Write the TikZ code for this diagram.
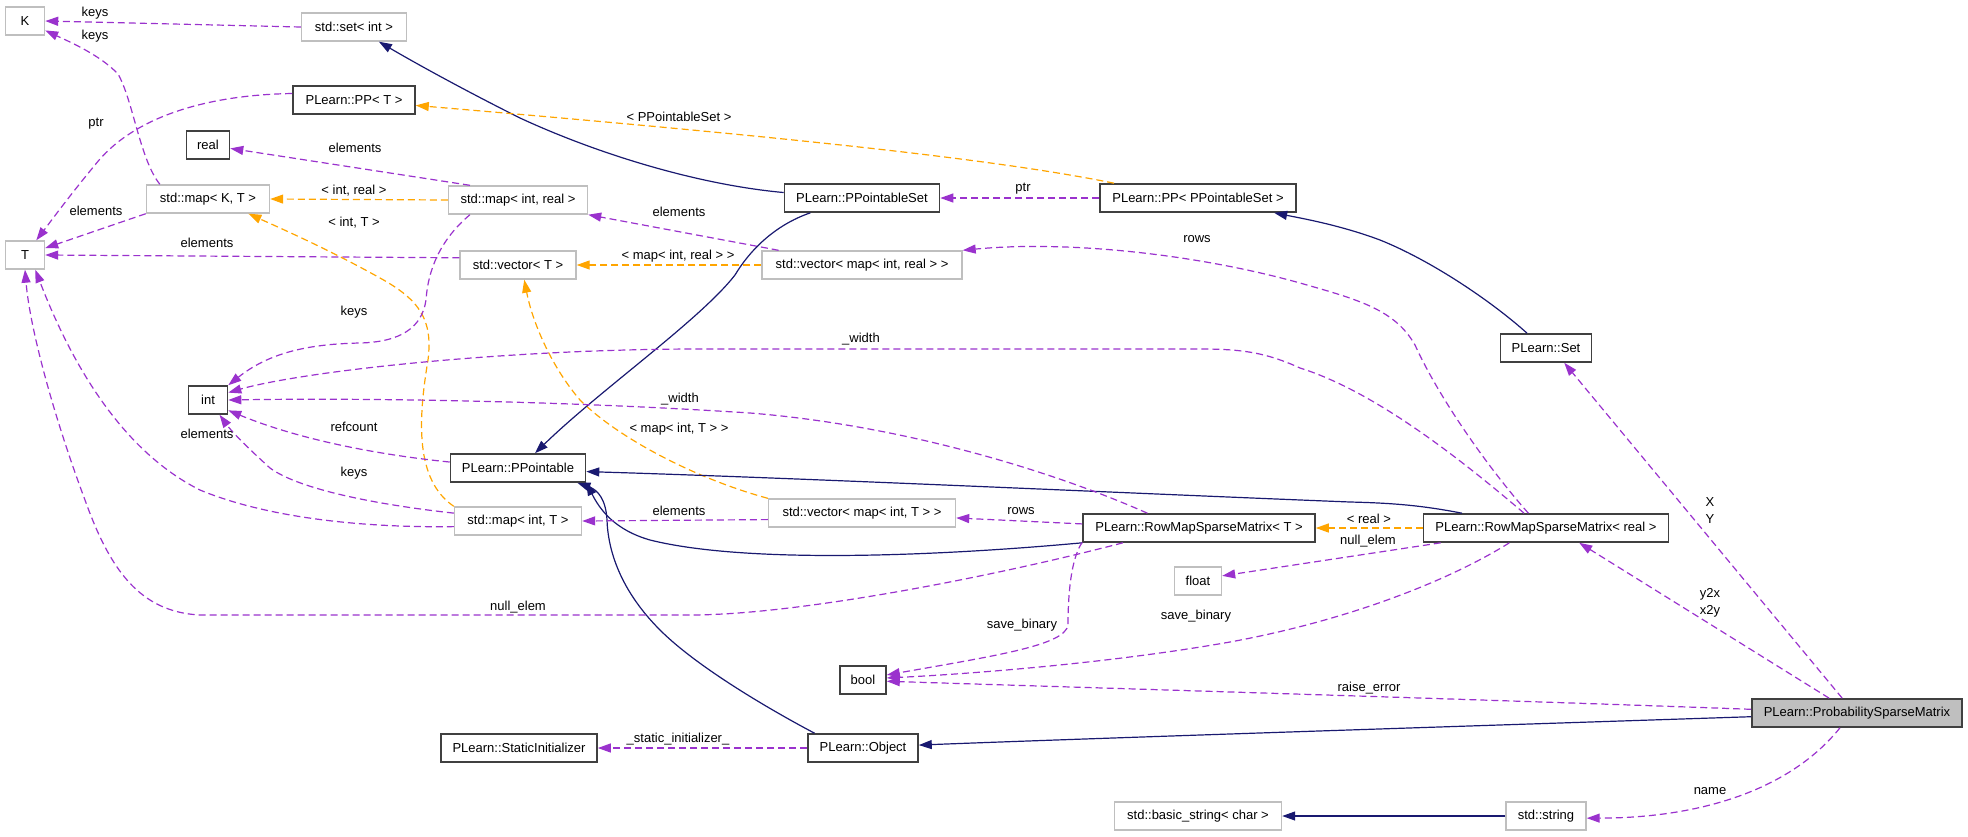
\documentclass[tikz,border=0pt]{standalone}
\usepackage{fontspec}
\setmainfont{Liberation Sans}
\usetikzlibrary{arrows.meta}
\definecolor{navy}{HTML}{191970}
\definecolor{orchid}{HTML}{9A32CD}
\definecolor{gold}{HTML}{FFA500}
\definecolor{gbord}{HTML}{BFBFBF}
\definecolor{dbord}{HTML}{404040}
\definecolor{psmfill}{HTML}{BFBFBF}
\begin{document}
\begin{tikzpicture}[x=1pt,y=-1pt,font=\fontsize{13}{17}\selectfont,
  box/.style={draw=dbord,line width=1.6pt,minimum height=28pt,inner sep=0pt,fill=white},
  gbox/.style={draw=gbord,line width=1.4pt,minimum height=28pt,inner sep=0pt,fill=white},
  tip/.style={-{Triangle[length=13pt,width=9pt]}},
  mem/.style={draw=orchid,line width=1.2pt,dash pattern=on 7pt off 4pt,tip},
  tmpl/.style={draw=gold,line width=1.2pt,dash pattern=on 7pt off 4pt,tip},
  inh/.style={draw=navy,line width=1.2pt,tip},
  lbl/.style={inner sep=0pt,align=center}]
\useasboundingbox (0,0) rectangle (1968,836);
% nodes
\node[gbox,minimum width=39pt] (K) at (25,21) {K};
\node[gbox,minimum width=105pt] (setint) at (354,27) {std::set< int >};
\node[box,minimum width=122pt] (PPT) at (354,100) {PLearn::PP< T >};
\node[box,minimum width=43pt] (real) at (208,145) {real};
\node[gbox,minimum width=123pt] (mapKT) at (208,199) {std::map< K, T >};
\node[gbox,minimum width=139pt] (mapIR) at (518,200) {std::map< int, real >};
\node[gbox,minimum width=39pt] (T) at (25,255) {T};
\node[gbox,minimum width=116pt] (vecT) at (518,265) {std::vector< T >};
\node[box,minimum width=155pt] (PPS) at (862,198) {PLearn::PPointableSet};
\node[box,minimum width=196pt] (PPPS) at (1198,198) {PLearn::PP< PPointableSet >};
\node[gbox,minimum width=200pt] (vecMIR) at (862,265) {std::vector< map< int, real > >};
\node[box,minimum width=91pt] (Set) at (1546,348) {PLearn::Set};
\node[box,minimum width=39pt] (int) at (208,400) {int};
\node[box,minimum width=135pt] (PPtbl) at (518,468) {PLearn::PPointable};
\node[gbox,minimum width=127pt] (mapIT) at (518,521) {std::map< int, T >};
\node[gbox,minimum width=187pt] (vecMIT) at (862,513) {std::vector< map< int, T > >};
\node[box,minimum width=232pt] (RMT) at (1199,528) {PLearn::RowMapSparseMatrix< T >};
\node[gbox,minimum width=47pt] (float) at (1198,581) {float};
\node[box,minimum width=245pt] (RMR) at (1546,528) {PLearn::RowMapSparseMatrix< real >};
\node[box,minimum width=210pt,fill=psmfill] (PSM) at (1857,713) {PLearn::ProbabilitySparseMatrix};
\node[gbox,minimum width=80pt] (string) at (1546,816) {std::string};
\node[gbox,minimum width=167pt] (bstring) at (1198,816) {std::basic\_string< char >};
\node[box,minimum width=46pt] (bool) at (863,680) {bool};
\node[box,minimum width=156pt] (SI) at (519,748) {PLearn::StaticInitializer};
\node[box,minimum width=110pt] (Obj) at (863,748) {PLearn::Object};
% edges
\draw[mem] (setint.west) -- (K.east);
\node[lbl] (l1) at (95,13) {keys};
\draw[mem] (mapKT.163) .. controls (140,160) and (133,100) .. (118,74) .. controls (100,55) and (70,42) .. (K);
\node[lbl] (l2) at (95,36) {keys};
\draw[mem] (PPT.174) .. controls (200,95) and (130,120) .. (95,165) .. controls (70,195) and (48,225) .. (T);
\node[lbl] (l3) at (96,124) {ptr};
\draw[mem] (mapIR.163) -- (real);
\node[lbl] (l4) at (355,148) {elements};
\draw[tmpl] (mapIR.west) -- (mapKT.east);
\node[lbl] (l5) at (354,191) {< int, real >};
\draw[mem] (mapKT.south west) -- (T);
\node[lbl] (l6) at (96,211) {elements};
\draw[mem] (vecT.173) -- (T.east);
\node[lbl] (l7) at (207,243) {elements};
\draw[tmpl] (mapIT.north west) .. controls (415,480) and (418,420) .. (428,360) .. controls (433,320) and (420,300) .. (380,278) .. controls (330,250) and (280,228) .. (mapKT.-20);
\node[lbl] (l8) at (354,223) {< int, T >};
\draw[mem] (mapIR.197) .. controls (440,240) and (428,270) .. (426,300) .. controls (422,328) and (400,342) .. (360,343) .. controls (310,344) and (270,352) .. (int.north east);
\node[lbl] (l9) at (354,312) {keys};
\draw[mem] (vecMIR.170) -- (mapIR.south east);
\node[lbl] (l10) at (679,212) {elements};
\draw[tmpl] (vecMIR.west) -- (vecT.east);
\node[lbl] (l11) at (678,256) {< map< int, real > >};
\draw[tmpl] (vecMIT.north west) .. controls (700,480) and (620,440) .. (580,400) .. controls (550,365) and (532,320) .. (vecT.-67);
\node[lbl] (l12) at (679,429) {< map< int, T > >};
\draw[inh] (PPS.176) .. controls (700,185) and (600,155) .. (520,118) .. controls (460,88) and (410,60) .. (setint);
\draw[tmpl] (PPPS.170) .. controls (1000,160) and (800,138) .. (PPT.-5);
\node[lbl] (l14) at (679,117) {< PPointableSet >};
\draw[mem] (PPPS.west) -- (PPS.east);
\node[lbl] (l15) at (1023,189) {ptr};
\draw[inh] (Set.142) .. controls (1490,300) and (1430,260) .. (1380,240) .. controls (1340,225) and (1300,218) .. (PPPS.-11);
\draw[inh] (PPS.196) .. controls (775,225) and (750,250) .. (735,275) .. controls (700,320) and (600,390) .. (PPtbl.41);
\draw[inh] (RMR.170) .. controls (1420,505) and (1390,503) .. (1350,502) .. controls (1100,492) and (800,478) .. (PPtbl.-3);
\draw[inh] (RMT.south west) .. controls (950,555) and (750,565) .. (650,540) .. controls (615,530) and (600,510) .. (PPtbl.-12);
\draw[inh] (Obj.163) .. controls (780,715) and (700,670) .. (660,630) .. controls (620,590) and (608,550) .. (607,520) .. controls (606,500) and (598,490) .. (PPtbl.-14);
\draw[mem] (mapIT.173) .. controls (380,505) and (300,490) .. (270,468) .. controls (250,450) and (232,432) .. (int.-52);
\node[lbl] (l21) at (354,473) {keys};
\draw[mem] (mapIT.185) .. controls (350,528) and (260,515) .. (200,490) .. controls (120,450) and (70,360) .. (T.-55);
\node[lbl] (l22) at (207,434) {elements};
\draw[mem] (PPtbl.175) .. controls (380,455) and (300,440) .. (int.-27);
\node[lbl] (l23) at (354,427) {refcount};
\draw[mem] (RMT.164) .. controls (1050,470) and (900,425) .. (750,413) .. controls (550,400) and (350,398) .. (int.east);
\node[lbl] (l24) at (680,399) {\_width};
\draw[mem] (RMR.146) .. controls (1450,450) and (1370,390) .. (1300,368) .. controls (1265,352) and (1240,349) .. (1200,349) -- (700,349) .. controls (500,349) and (300,372) .. (int.20);
\node[lbl] (l25) at (861,339) {\_width};
\draw[mem] (RMR.140) .. controls (1490,470) and (1440,400) .. (1415,345) .. controls (1395,310) and (1360,300) .. (1300,283) .. controls (1200,255) and (1070,240) .. (vecMIR.north east);
\node[lbl] (l26) at (1197,239) {rows};
\draw[mem] (RMT.178) -- (vecMIT.-3);
\node[lbl] (l27) at (1021,511) {rows};
\draw[mem] (vecMIT.184) -- (mapIT.east);
\node[lbl] (l28) at (679,511) {elements};
\draw[tmpl] (RMR.west) -- (RMT.east);
\node[lbl] (l29) at (1369,519) {< real >};
\draw[mem] (RMR.188) -- (float.12);
\node[lbl] (l30) at (1368,541) {null\_elem};
\draw[mem] (RMT.191) .. controls (1000,575) and (800,615) .. (690,615) -- (200,615) .. controls (140,612) and (110,570) .. (85,500) .. controls (55,420) and (30,330) .. (T.south);
\node[lbl] (l31) at (518,607) {null\_elem};
\draw[mem] (RMT.187.5) .. controls (1070,560) and (1068,600) .. (1068,625) .. controls (1065,645) and (1000,655) .. (bool.12);
\node[lbl] (l32) at (1022,625) {save\_binary};
\draw[mem] (RMR.202) .. controls (1450,580) and (1350,620) .. (1230,642) .. controls (1100,665) and (950,675) .. (bool.5);
\node[lbl] (l33) at (1196,616) {save\_binary};
\draw[mem] (PSM.178) .. controls (1500,700) and (1100,688) .. (bool.-3);
\node[lbl] (l34) at (1369,688) {raise\_error};
\draw[inh] (PSM.182) .. controls (1500,725) and (1100,738) .. (Obj.3);
\draw[mem] (Obj.west) -- (SI.east);
\node[lbl] (l36) at (678,739) {\_static\_initializer\_};
\draw[mem] (PSM.152) -- (RMR.-24);
\node[lbl] (l37) at (1710,603) {y2x\\x2y};
\draw[mem] (PSM.135) -- (Set.-39.5);
\node[lbl] (l38) at (1710,511) {X\\Y};
\draw[mem] (PSM.221) .. controls (1790,790) and (1700,818) .. (string.-3);
\node[lbl] (l39) at (1710,791) {name};
\draw[inh] (string.west) -- (bstring.east);
\end{tikzpicture}
\end{document}
